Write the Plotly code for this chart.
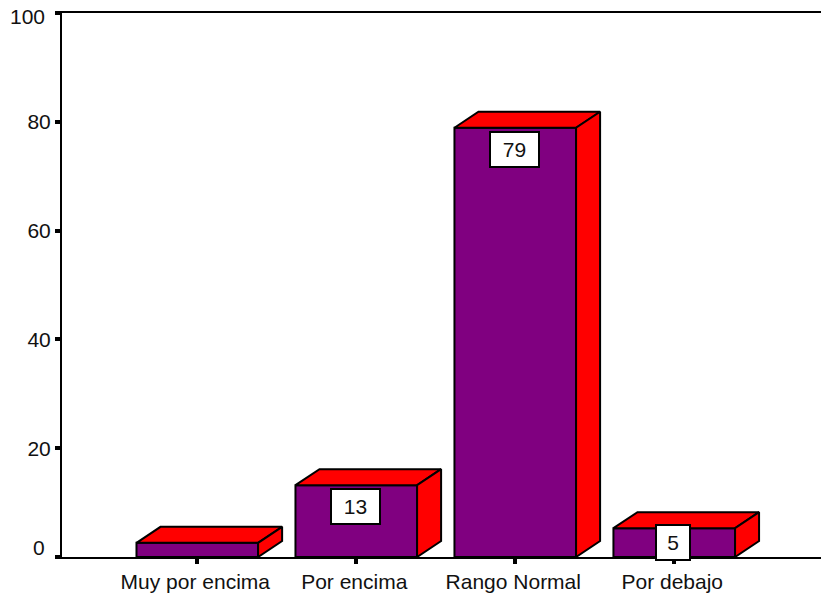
import plotly.graph_objects as go

categories = ["Muy por encima", "Por encima", "Rango Normal", "Por debajo"]
values = [2.6, 13.2, 78.9, 5.3]
bar_labels = [None, "13", "79", "5"]
y_ticks = [0, 20, 40, 60, 80, 100]
y_tick_text = ["", "20", "40", "60", "80", ""]

PURPLE = "#800080"
RED = "#ff0000"
FONT = dict(family="Liberation Sans, Arial, sans-serif", size=21, color="#111111")
BAR_W = 0.765
DX = 0.151   # depth of the 3D extrusion, x units
DY = 2.94    # depth of the 3D extrusion, y units
LINE = dict(color="black", width=2)

idx = list(range(len(categories)))
fig = go.Figure()
fig.add_trace(go.Bar(x=idx, y=values, width=BAR_W, marker=dict(color=PURPLE, line=LINE),
                     hoverinfo="x+y"))
for i, v in zip(idx, values):
    l, r = i - BAR_W / 2, i + BAR_W / 2
    fig.add_trace(go.Scatter(x=[l, l + DX, r + DX, r, l], y=[v, v + DY, v + DY, v, v],
                             mode="lines", fill="toself", fillcolor=RED, line=LINE,
                             hoverinfo="skip", cliponaxis=False))
    fig.add_trace(go.Scatter(x=[r, r + DX, r + DX, r, r], y=[0, DY, v + DY, v, 0],
                             mode="lines", fill="toself", fillcolor=RED, line=LINE,
                             hoverinfo="skip", cliponaxis=False))

annotations = []
for i, (v, t) in enumerate(zip(values, bar_labels)):
    if t is None:
        continue
    annotations.append(dict(x=i, y=v, xref="x", yref="y", text=t, showarrow=False,
                            yanchor="top", yshift=4 if v < 10 else -3, xshift=-1,
                            width=47 if len(t) > 1 else 32, height=33,
                            bgcolor="white", bordercolor="black", borderwidth=2,
                            borderpad=0, font=FONT))
# the end labels of the value axis sit off their ticks in the original
annotations.append(dict(xref="paper", yref="y", x=0, y=y_ticks[0], text="0", showarrow=False,
                        xanchor="right", xshift=-15, yshift=10, font=FONT))
annotations.append(dict(xref="paper", yref="y", x=0, y=y_ticks[-1], text="100", showarrow=False,
                        xanchor="right", xshift=-15, yshift=-3, font=FONT))

fig.update_layout(
    width=821, height=594, margin=dict(l=62, r=0, t=13, b=37),
    paper_bgcolor="white", plot_bgcolor="white", showlegend=False, font=FONT,
    annotations=annotations,
    xaxis=dict(range=[-0.851, 3.923], tickmode="array", tickvals=idx, ticktext=categories,
               ticks="outside", ticklen=5, tickwidth=4, tickcolor="black",
               ticklabelshift=-2,
               showline=True, linecolor="black", linewidth=2, mirror=True,
               showgrid=False, zeroline=False, tickfont=FONT),
    yaxis=dict(range=[0, 100], tickmode="array", tickvals=y_ticks, ticktext=y_tick_text,
               ticks="outside", ticklen=5, tickwidth=4, tickcolor="black",
               showline=True, linecolor="black", linewidth=2,
               showgrid=False, zeroline=False, tickfont=FONT),
)
fig.write_html("out.html", config=dict(displayModeBar=False),
               post_script="document.body.style.margin='0';")
